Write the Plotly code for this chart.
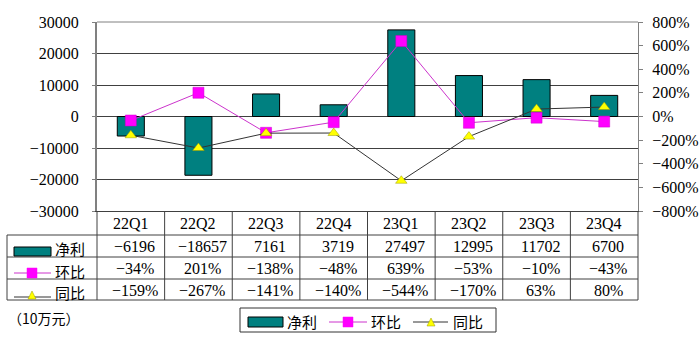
import plotly.graph_objects as go

# ---------------- data ----------------
quarters = ["22Q1", "22Q2", "22Q3", "22Q4", "23Q1", "23Q2", "23Q3", "23Q4"]
net_profit = [-6196, -18657, 7161, 3719, 27497, 12995, 11702, 6700]
qoq_pct = [-34, 201, -138, -48, 639, -53, -10, -43]
yoy_pct = [-159, -267, -141, -140, -544, -170, 63, 80]
series_names = ["净利", "环比", "同比"]
unit_label = "（10万元）"

# ---------------- style ----------------
W, H = 699, 341
L, R, T, B = 97, 638, 22, 211          # plot area in pixels
TEAL = "#008080"
MAG = "#ff00ff"
MAG_LINE = "#cc33cc"
YEL = "#ffff00"
GRID = "#404040"
AXIS = "#808080"
NUMFONT = "Liberation Serif, Noto Sans CJK SC"
CJKFONT = "Noto Sans CJK SC"
NUMSIZE = 16


def px(xp):
    return (xp - L) / (R - L)


def py(yp):
    return (B - yp) / (B - T)


def fmt(v, suffix=""):
    return f"{v}{suffix}".replace("-", "\u2212")


fig = go.Figure()
fig.add_trace(go.Bar(
    x=quarters, y=net_profit, name=series_names[0], width=0.4,
    marker=dict(color=TEAL, line=dict(color="#000000", width=1)),
    yaxis="y",
))
fig.add_trace(go.Scatter(
    x=quarters, y=qoq_pct, name=series_names[1], mode="lines+markers",
    line=dict(color=MAG_LINE, width=1),
    marker=dict(symbol="square", size=11, color=MAG, line=dict(color="#cc00cc", width=0.5)),
    yaxis="y2", cliponaxis=False,
))
fig.add_trace(go.Scatter(
    x=quarters, y=yoy_pct, name=series_names[2], mode="lines+markers",
    line=dict(color="#333333", width=1),
    marker=dict(symbol="triangle-up", size=10, color=YEL, line=dict(color="#999900", width=0.5)),
    yaxis="y2", cliponaxis=False,
))

shapes = []
annotations = []

# plot frame top line
shapes.append(dict(type="line", xref="paper", yref="paper", x0=0, x1=1, y0=1, y1=1,
                   line=dict(color=AXIS, width=1)))

# ---------------- table ----------------
row_lines = [235, 257, 279, 300]
for yl in row_lines:
    shapes.append(dict(type="line", xref="paper", yref="paper", x0=px(7), x1=1,
                       y0=py(yl), y1=py(yl), line=dict(color=GRID, width=1)))
shapes.append(dict(type="line", xref="paper", yref="paper", x0=px(7), x1=px(7),
                   y0=py(235), y1=py(300), line=dict(color=GRID, width=1)))
shapes.append(dict(type="line", xref="paper", yref="paper", x0=0, x1=0,
                   y0=py(211), y1=py(300), line=dict(color=GRID, width=1)))
shapes.append(dict(type="line", xref="paper", yref="paper", x0=1, x1=1,
                   y0=py(211), y1=py(300), line=dict(color=GRID, width=1)))
for i in range(len(quarters) - 1):
    shapes.append(dict(type="line", xref="x", yref="paper", x0=i + 0.5, x1=i + 0.5,
                       y0=py(211), y1=py(300), line=dict(color=GRID, width=1)))

row_y = [223, 246, 268, 290]
rows = [quarters,
        [fmt(v) for v in net_profit],
        [fmt(v, "%") for v in qoq_pct],
        [fmt(v, "%") for v in yoy_pct]]
for r, (yc, vals) in enumerate(zip(row_y, rows)):
    for i, t in enumerate(vals):
        annotations.append(dict(x=i, y=py(yc), xref="x", yref="paper", text=t,
                                xanchor="center", yanchor="middle",
                                showarrow=False, xshift=0 if r == 0 else 4,
                                font=dict(family=NUMFONT, size=NUMSIZE, color="#000")))

# row labels with keys
for name, yc in zip(series_names, [248, 271, 292]):
    annotations.append(dict(x=px(53), y=py(yc), xref="paper", yref="paper", text=name,
                            xanchor="left", yanchor="middle", showarrow=False,
                            font=dict(family=CJKFONT, size=15, color="#000")))
# key 1: teal rect
shapes.append(dict(type="rect", xref="paper", yref="paper", x0=px(14), x1=px(51),
                   y0=py(256), y1=py(247), fillcolor=TEAL, line=dict(color="#000", width=1)))
# key 2: magenta line + square
shapes.append(dict(type="line", xref="paper", yref="paper", x0=px(14), x1=px(51),
                   y0=py(273), y1=py(273), line=dict(color=MAG_LINE, width=1)))
shapes.append(dict(type="rect", xref="paper", yref="paper", x0=px(27), x1=px(37),
                   y0=py(278), y1=py(268), fillcolor=MAG, line=dict(color=MAG, width=0.5)))
# key 3: dark line + triangle
shapes.append(dict(type="line", xref="paper", yref="paper", x0=px(14), x1=px(51),
                   y0=py(297), y1=py(297), line=dict(color="#333", width=1)))
shapes.append(dict(type="path", xref="paper", yref="paper",
                   path=f"M {px(28)},{py(299)} L {px(36)},{py(299)} L {px(32)},{py(291)} Z",
                   fillcolor=YEL, line=dict(color="#999900", width=0.5)))

# unit label
annotations.append(dict(x=px(6), y=py(318), xref="paper", yref="paper", text=unit_label,
                        xanchor="left", yanchor="middle", showarrow=False,
                        font=dict(family=CJKFONT, size=14, color="#000")))

# ---------------- legend box ----------------
shapes.append(dict(type="rect", xref="paper", yref="paper", x0=px(240), x1=px(496),
                   y0=py(332), y1=py(308), fillcolor="#ffffff", line=dict(color="#333", width=1)))
shapes.append(dict(type="rect", xref="paper", yref="paper", x0=px(248), x1=px(283),
                   y0=py(327), y1=py(317), fillcolor=TEAL, line=dict(color="#000", width=1)))
shapes.append(dict(type="line", xref="paper", yref="paper", x0=px(329), x1=px(367),
                   y0=py(322), y1=py(322), line=dict(color=MAG_LINE, width=1)))
shapes.append(dict(type="rect", xref="paper", yref="paper", x0=px(343), x1=px(353),
                   y0=py(327), y1=py(317), fillcolor=MAG, line=dict(color=MAG, width=0.5)))
shapes.append(dict(type="line", xref="paper", yref="paper", x0=px(413), x1=px(448),
                   y0=py(322), y1=py(322), line=dict(color="#333", width=1)))
shapes.append(dict(type="path", xref="paper", yref="paper",
                   path=f"M {px(427)},{py(326)} L {px(435)},{py(326)} L {px(431)},{py(318)} Z",
                   fillcolor=YEL, line=dict(color="#999900", width=0.5)))
for name, xl in zip(series_names, [285, 369, 451]):
    annotations.append(dict(x=px(xl), y=py(321), xref="paper", yref="paper", text=name,
                            xanchor="left", yanchor="middle", showarrow=False,
                            font=dict(family=CJKFONT, size=15, color="#000")))

fig.update_layout(
    width=W, height=H, autosize=False,
    margin=dict(l=L, r=W - R, t=T, b=H - B, pad=0),
    paper_bgcolor="#ffffff", plot_bgcolor="#ffffff",
    showlegend=False,
    bargap=0.6,
    xaxis=dict(type="category", range=[-0.5, len(quarters) - 0.5], showticklabels=False,
               showgrid=False, showline=True, linecolor=GRID, linewidth=1, ticks="",
               zeroline=False, fixedrange=True, automargin=False),
    yaxis=dict(range=[-30000, 30000], dtick=10000, tickformat="d", automargin=False,
               showgrid=True, gridcolor=GRID, gridwidth=1,
               zeroline=True, zerolinecolor=GRID, zerolinewidth=1,
               showline=True, linecolor=AXIS, linewidth=2, ticks="outside", ticklen=3,
               tickcolor=AXIS, ticklabelstandoff=10,
               tickfont=dict(family=NUMFONT, size=NUMSIZE, color="#000")),
    yaxis2=dict(range=[-800, 800], dtick=200, ticksuffix="%", overlaying="y", side="right",
                automargin=False,
                showgrid=False, zeroline=False, showline=True, linecolor=AXIS, linewidth=1,
                ticks="outside", ticklen=4, tickcolor=AXIS, ticklabelstandoff=6,
                tickfont=dict(family=NUMFONT, size=NUMSIZE, color="#000")),
    shapes=shapes,
    annotations=annotations,
)

fig.write_html("out.html")
